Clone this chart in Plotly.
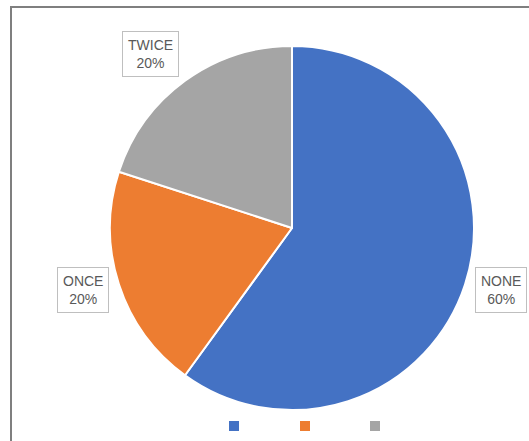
import plotly.graph_objects as go

# Answer categories and their shares (%)
categories = ["NONE", "ONCE", "TWICE"]
shares = [60, 20, 20]
colors = ["#4472C4", "#ED7D31", "#A5A5A5"]

W, H = 529, 441

def px(x):
    return x / W

def py(y):
    return 1 - y / H

# Pie geometry in pixels
cx, cy, r = 292, 228, 182

fig = go.Figure(go.Pie(
    labels=categories,
    values=shares,
    sort=False,
    direction="clockwise",
    rotation=0,
    marker=dict(colors=colors, line=dict(color="white", width=2)),
    textinfo="none",
    hoverinfo="label+percent",
    showlegend=False,
    domain=dict(x=[px(cx - r), px(cx + r)], y=[py(cy + r), py(cy - r)]),
))

# Boxed data labels outside the pie
label_pos = {"NONE": (500.5, 290), "ONCE": (83, 290), "TWICE": (150, 54.5)}
total = sum(shares)
annotations = []
for cat, val in zip(categories, shares):
    x, y = label_pos[cat]
    annotations.append(dict(
        x=px(x), y=py(y), xref="paper", yref="paper",
        xanchor="center", yanchor="middle", showarrow=False,
        text=f"{cat}<br>{round(100 * val / total)}%",
        font=dict(family="Liberation Sans", size=14, color="#595959"),
        bordercolor="#BFBFBF", borderwidth=1, borderpad=5,
        bgcolor="white",
    ))

shapes = []
# Legend swatches at the bottom
legend_x = [234, 305, 375]
for lx, c in zip(legend_x, colors):
    shapes.append(dict(
        type="rect", xref="paper", yref="paper",
        x0=px(lx - 5), x1=px(lx + 5), y0=py(431), y1=py(421),
        fillcolor=c, line=dict(width=0),
    ))

# Chart frame (left and top edges visible)
frame = "#7F7F7F"
shapes.append(dict(type="line", xref="paper", yref="paper",
                   x0=px(11), x1=px(11), y0=py(7), y1=0,
                   line=dict(color=frame, width=2)))
shapes.append(dict(type="line", xref="paper", yref="paper",
                   x0=px(10), x1=1, y0=py(7), y1=py(7),
                   line=dict(color=frame, width=2)))

fig.update_layout(
    width=W, height=H,
    margin=dict(l=0, r=0, t=0, b=0),
    paper_bgcolor="white",
    plot_bgcolor="white",
    annotations=annotations,
    shapes=shapes,
)

fig.write_html("out.html", config={"displayModeBar": False})
